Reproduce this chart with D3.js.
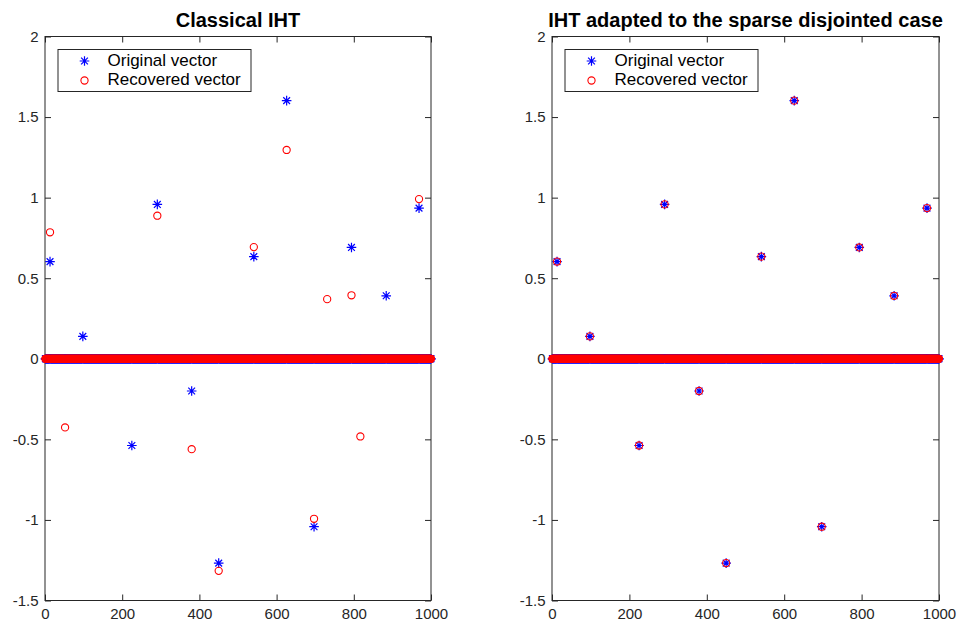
<!DOCTYPE html>
<html>
<head>
<meta charset="utf-8">
<script src="https://cdn.jsdelivr.net/npm/d3@7"></script>
<style>
  html, body { margin: 0; padding: 0; background: #fff; }
  svg { display: block; font-family: "Liberation Sans", Arial, Helvetica, sans-serif; }
  .tick text { fill: #262626; }
</style>
</head>
<body>
<svg id="chart" width="958" height="623"></svg>
<script>
// Vector length and nonzero entries (index, value) of each signal
const N = 1000;
const originalIdx = [13, 98, 225, 291, 380, 450, 541, 626, 697, 794, 884, 969];
const originalVal = [0.603, 0.139, -0.538, 0.958, -0.200, -1.268, 0.634, 1.602, -1.042, 0.691, 0.391, 0.935];
const classicalIdx = [13, 52, 291, 380, 450, 541, 626, 697, 731, 794, 817, 969];
const classicalVal = [0.785, -0.426, 0.888, -0.561, -1.316, 0.693, 1.296, -0.993, 0.370, 0.394, -0.482, 0.991];
const adaptedIdx = [13, 98, 225, 291, 380, 450, 541, 626, 697, 794, 884, 969];
const adaptedVal = [0.603, 0.139, -0.538, 0.958, -0.200, -1.268, 0.634, 1.602, -1.042, 0.691, 0.391, 0.935];

const xTicks = [0, 200, 400, 600, 800, 1000];
const yTicks = [-1.5, -1, -0.5, 0, 0.5, 1, 1.5, 2];
const titles = ["Classical IHT", "IHT adapted to the sparse disjointed case"];
const legendLabels = ["Original vector", "Recovered vector"];

// Expand a sparse (index, value) list into the full length-N vector
function fullVector(idx, val) {
  const v = new Array(N).fill(0);
  idx.forEach((k, j) => { v[k - 1] = val[j]; });
  return v.map((y, i) => ({ x: i + 1, y }));
}

const original = fullVector(originalIdx, originalVal);
const panels = [
  { left: 45, right: 431, title: titles[0], recovered: fullVector(classicalIdx, classicalVal) },
  { left: 552, right: 939, title: titles[1], recovered: fullVector(adaptedIdx, adaptedVal) }
];

const plotTop = 36.5, plotBottom = 600.5;
const axisColor = "#262626";

// Asterisk marker: vertical, horizontal and two diagonal strokes
const asterisk = {
  draw(ctx, size) {
    const r = Math.sqrt(size) / 2;
    const d = r * Math.SQRT1_2;
    ctx.moveTo(0, -r); ctx.lineTo(0, r);
    ctx.moveTo(-r, 0); ctx.lineTo(r, 0);
    ctx.moveTo(-d, -d); ctx.lineTo(d, d);
    ctx.moveTo(-d, d); ctx.lineTo(d, -d);
  }
};
const starPath = d3.symbol().type(asterisk).size(92)();
const circleR = 3.6;

const svg = d3.select("#chart");

panels.forEach(p => {
  const x = d3.scaleLinear().domain([0, 1000]).range([p.left, p.right]);
  const y = d3.scaleLinear().domain([-1.5, 2]).range([plotBottom, plotTop]);
  const g = svg.append("g");

  // Box outline
  g.append("rect")
    .attr("x", p.left).attr("y", plotTop)
    .attr("width", p.right - p.left).attr("height", plotBottom - plotTop)
    .attr("fill", "none").attr("stroke", axisColor).attr("stroke-width", 1);

  const styleAxis = sel => {
    sel.select(".domain").remove();
    sel.selectAll(".tick line").attr("stroke", axisColor);
    sel.selectAll(".tick text").attr("font-size", 15);
  };

  g.append("g").attr("transform", `translate(0,${plotBottom})`)
    .call(d3.axisBottom(x).tickValues(xTicks).tickFormat(d3.format("d")).tickSize(-6).tickPadding(8))
    .call(styleAxis);
  g.append("g").attr("transform", `translate(0,${plotTop})`)
    .call(d3.axisTop(x).tickValues(xTicks).tickFormat("").tickSize(-6))
    .call(styleAxis);
  g.append("g").attr("transform", `translate(${p.left},0)`)
    .call(d3.axisLeft(y).tickValues(yTicks).tickFormat(d => String(d)).tickSize(-6).tickPadding(6.5))
    .call(styleAxis);
  g.append("g").attr("transform", `translate(${p.right},0)`)
    .call(d3.axisRight(y).tickValues(yTicks).tickFormat("").tickSize(-6))
    .call(styleAxis);

  // Original vector: blue asterisks
  g.append("g").selectAll("path").data(original).join("path")
    .attr("d", starPath)
    .attr("transform", d => `translate(${x(d.x)},${y(d.y)})`)
    .attr("fill", "none").attr("stroke", "#0000ff").attr("stroke-width", 1.2);

  // Recovered vector: red open circles
  g.append("g").selectAll("circle").data(p.recovered).join("circle")
    .attr("cx", d => x(d.x)).attr("cy", d => y(d.y)).attr("r", circleR)
    .attr("fill", "none").attr("stroke", "#ff0000").attr("stroke-width", 1.1);

  // Title
  g.append("text")
    .attr("x", (p.left + p.right) / 2).attr("y", 27)
    .attr("text-anchor", "middle").attr("font-size", 20).attr("font-weight", "bold")
    .attr("fill", "#000").text(p.title);

  // Legend
  const lx = p.left + 13, ly = 49.5, lw = 193, lh = 42;
  const lg = g.append("g");
  lg.append("rect").attr("x", lx).attr("y", ly).attr("width", lw).attr("height", lh)
    .attr("fill", "#fff").attr("stroke", axisColor).attr("stroke-width", 1);
  const mx = lx + 26.5, tx = lx + 49.5;
  lg.append("path").attr("d", starPath).attr("transform", `translate(${mx},${ly + 11.5})`)
    .attr("fill", "none").attr("stroke", "#0000ff").attr("stroke-width", 1.2);
  lg.append("circle").attr("cx", mx).attr("cy", ly + 31).attr("r", circleR)
    .attr("fill", "none").attr("stroke", "#ff0000").attr("stroke-width", 1.1);
  lg.append("text").attr("x", tx).attr("y", ly + 16.5).attr("font-size", 17).attr("fill", "#000").text(legendLabels[0]);
  lg.append("text").attr("x", tx).attr("y", ly + 35.5).attr("font-size", 17).attr("fill", "#000").text(legendLabels[1]);
});
</script>
</body>
</html>
